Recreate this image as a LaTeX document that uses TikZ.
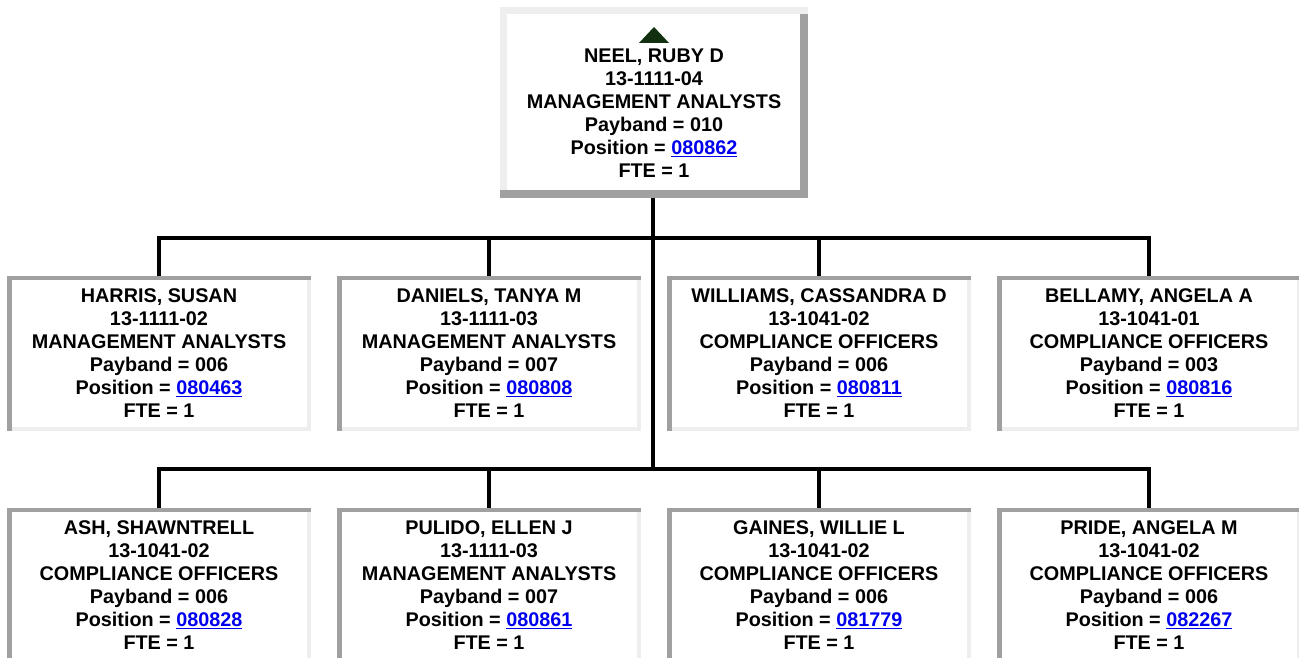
\documentclass[tikz,border=0pt]{standalone}
\usepackage{fontspec}
\setmainfont{Liberation Sans}
\definecolor{linkblue}{RGB}{0,0,238}
\definecolor{bdark}{RGB}{160,160,160}
\definecolor{blight}{RGB}{238,238,238}
\definecolor{tricol}{RGB}{16,48,16}
\newcommand{\lnk}[1]{\textcolor{linkblue}{\underline{#1}}}
\newcommand{\insetborder}[1]{%
  \fill[blight] (#1.south west) rectangle ([yshift=4pt]#1.south east);
  \fill[blight] ([xshift=-4pt]#1.south east) rectangle (#1.north east);
  \fill[bdark] (#1.north west) rectangle ([xshift=4.5pt]#1.south west);
  \fill[bdark] (#1.north west) rectangle ([yshift=-4pt]#1.north east);
}
\begin{document}
\begin{tikzpicture}[x=1pt,y=1pt,
  card/.style={minimum width=304pt, minimum height=155pt, inner sep=0pt, outer sep=0pt,
    align=center, font=\bfseries\fontsize{19.8}{23}\selectfont},
  topcard/.style={card, minimum width=308pt, minimum height=191pt},
  conn/.style={line width=4.3pt, line join=miter, line cap=butt}]
\useasboundingbox (0,0) rectangle (1299,658);
\clip (0,0) rectangle (1299,658);

% top box
\node[topcard] (neel) at (654,555.5) {\rule{0pt}{13pt}\\NEEL, RUBY D\\13-1111-04\\MANAGEMENT ANALYSTS\\Payband = 010\\Position = \lnk{080862}\\FTE = 1};
\fill[blight] (neel.north west) rectangle ([yshift=-7pt]neel.north east);
\fill[blight] (neel.north west) rectangle ([xshift=7pt]neel.south west);
\fill[bdark] (neel.south west) rectangle ([yshift=8pt]neel.south east);
\fill[bdark] ([xshift=-8pt]neel.south east) rectangle ([yshift=-7pt]neel.north east);
\fill[tricol] ([yshift=-20pt]neel.north) -- ([xshift=-15pt,yshift=-36pt]neel.north) -- ([xshift=15pt,yshift=-36pt]neel.north) -- cycle;

% row 1
\node[card] (harris) at (159,304.5) {HARRIS, SUSAN\\13-1111-02\\MANAGEMENT ANALYSTS\\Payband = 006\\Position = \lnk{080463}\\FTE = 1};
\node[card] (daniels) at (489,304.5) {DANIELS, TANYA M\\13-1111-03\\MANAGEMENT ANALYSTS\\Payband = 007\\Position = \lnk{080808}\\FTE = 1};
\node[card] (williams) at (819,304.5) {WILLIAMS, CASSANDRA D\\13-1041-02\\COMPLIANCE OFFICERS\\Payband = 006\\Position = \lnk{080811}\\FTE = 1};
\node[card] (bellamy) at (1149,304.5) {BELLAMY, ANGELA A\\13-1041-01\\COMPLIANCE OFFICERS\\Payband = 003\\Position = \lnk{080816}\\FTE = 1};

% row 2
\node[card] (ash) at (159,72.5) {ASH, SHAWNTRELL\\13-1041-02\\COMPLIANCE OFFICERS\\Payband = 006\\Position = \lnk{080828}\\FTE = 1};
\node[card] (pulido) at (489,72.5) {PULIDO, ELLEN J\\13-1111-03\\MANAGEMENT ANALYSTS\\Payband = 007\\Position = \lnk{080861}\\FTE = 1};
\node[card] (gaines) at (819,72.5) {GAINES, WILLIE L\\13-1041-02\\COMPLIANCE OFFICERS\\Payband = 006\\Position = \lnk{081779}\\FTE = 1};
\node[card] (pride) at (1149,72.5) {PRIDE, ANGELA M\\13-1041-02\\COMPLIANCE OFFICERS\\Payband = 006\\Position = \lnk{082267}\\FTE = 1};

\foreach \n in {harris,daniels,williams,bellamy,ash,pulido,gaines,pride} {\insetborder{\n}}

% connectors
\coordinate (j1) at (653,420);
\coordinate (j2) at (653,189);
\draw[conn] (neel.south -| j1) -- (j2);
\draw[conn] (harris.north) -- (harris.north |- j1) -- (bellamy.north |- j1) -- (bellamy.north);
\draw[conn] (daniels.north) -- (daniels.north |- j1);
\draw[conn] (williams.north) -- (williams.north |- j1);
\draw[conn] (ash.north) -- (ash.north |- j2) -- (pride.north |- j2) -- (pride.north);
\draw[conn] (pulido.north) -- (pulido.north |- j2);
\draw[conn] (gaines.north) -- (gaines.north |- j2);
\end{tikzpicture}
\end{document}
